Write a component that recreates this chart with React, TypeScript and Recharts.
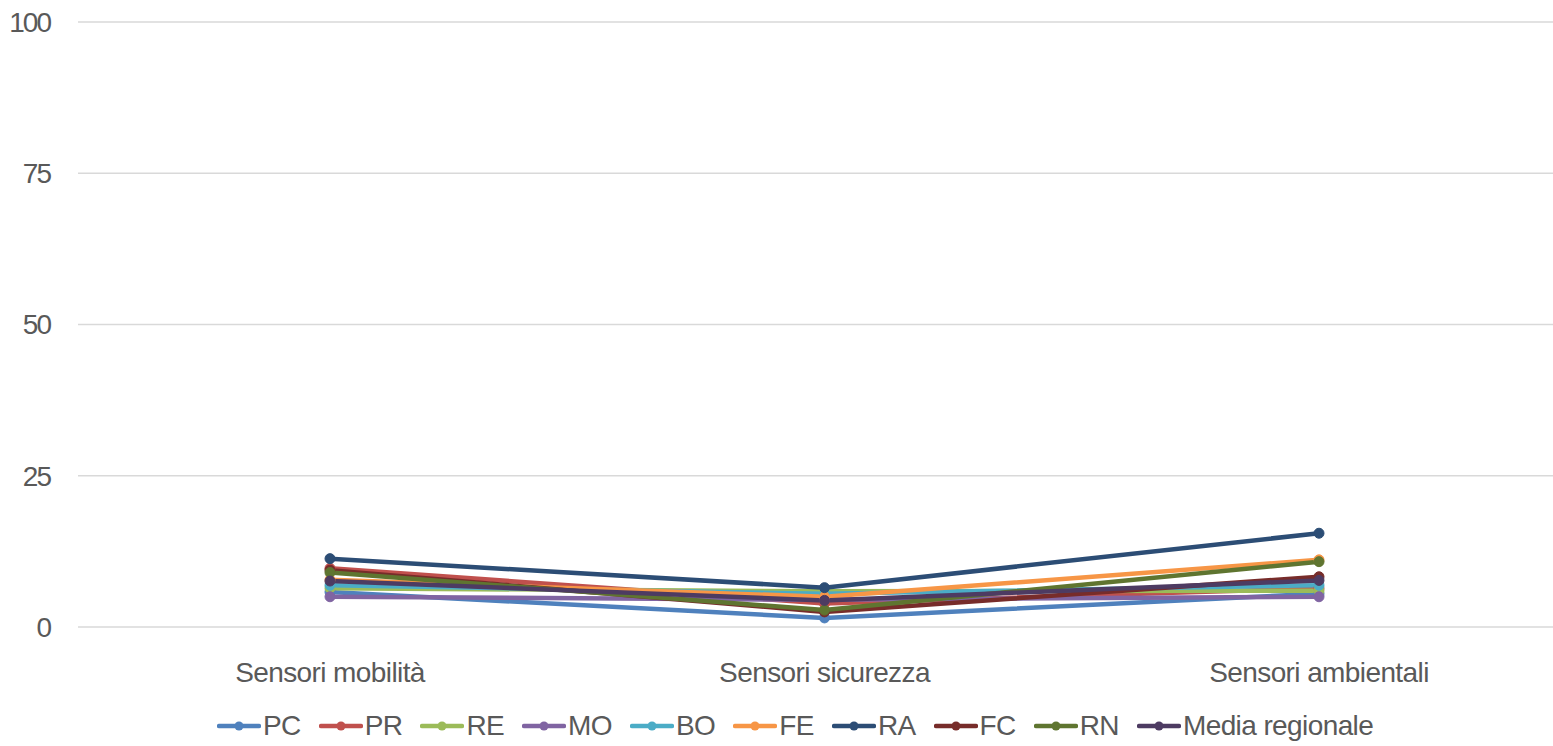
import { LineChart, Line, XAxis, YAxis, CartesianGrid, Legend } from 'recharts';

const categories = ['Sensori mobilità', 'Sensori sicurezza', 'Sensori ambientali'];

const PC = [5.8, 1.5, 5.5];
const PR = [9.7, 3.9, 6.4];
const RE = [6.4, 5.9, 6.0];
const MO = [5.0, 4.5, 5.0];
const BO = [6.9, 5.5, 6.9];
const FE = [7.8, 5.0, 11.1];
const RA = [11.3, 6.5, 15.5];
const FC = [9.4, 2.5, 8.3];
const RN = [9.0, 2.8, 10.8];
const MEDIA = [7.6, 4.4, 7.7];

const yTicks = [0, 25, 50, 75, 100];

const series = [
  { key: 'PC', values: PC, color: '#4F81BD' },
  { key: 'PR', values: PR, color: '#C0504D' },
  { key: 'RE', values: RE, color: '#9BBB59' },
  { key: 'MO', values: MO, color: '#8064A2' },
  { key: 'BO', values: BO, color: '#4BACC6' },
  { key: 'FE', values: FE, color: '#F79646' },
  { key: 'RA', values: RA, color: '#2C4D75' },
  { key: 'FC', values: FC, color: '#772C2A' },
  { key: 'RN', values: RN, color: '#5F7530' },
  { key: 'Media regionale', values: MEDIA, color: '#4D3B62' },
];

const data = categories.map((name, i) => {
  const row: Record<string, string | number> = { name };
  series.forEach((s) => {
    row[s.key] = s.values[i];
  });
  return row;
});

const FONT = '"Liberation Sans", Arial, sans-serif';
const TEXT = '#595959';

function LegendContent() {
  return (
    <div style={{ display: 'flex', alignItems: 'center', height: 40, paddingLeft: 217, fontFamily: FONT }}>
      {series.map((s) => (
        <div key={s.key} style={{ display: 'flex', alignItems: 'center', marginRight: 18 }}>
          <svg width={44} height={12} style={{ marginRight: 2 }}>
            <line x1={2} y1={6} x2={42} y2={6} stroke={s.color} strokeWidth={4.5} strokeLinecap="round" />
            <circle cx={22} cy={6} r={4.5} fill={s.color} />
          </svg>
          <span style={{ fontSize: 28, color: TEXT, letterSpacing: -0.6 }}>{s.key}</span>
        </div>
      ))}
    </div>
  );
}

export default function App() {
  return (
    <div style={{ position: 'absolute', left: 0, top: 0, width: 1553, height: 746, background: '#fff' }}>
      <LineChart width={1553} height={746} data={data} margin={{ top: 22, right: 0, left: 0, bottom: 0 }}>
        <CartesianGrid vertical={false} stroke="#d9d9d9" strokeWidth={1.5} />
        <XAxis
          dataKey="name"
          scale="point"
          padding={{ left: 252, right: 234 }}
          axisLine={false}
          tickLine={false}
          tickSize={0}
          tickMargin={35}
          height={79}
          tick={{ fontSize: 28, fill: TEXT, fontFamily: FONT, letterSpacing: -0.6 }}
        />
        <YAxis
          domain={[0, 100]}
          ticks={yTicks}
          width={78}
          axisLine={false}
          tickLine={false}
          tickSize={0}
          tickMargin={28}
          tick={{ fontSize: 28, fill: TEXT, fontFamily: FONT, letterSpacing: -2 }}
        />
        <Legend verticalAlign="bottom" height={40} content={() => <LegendContent />} />
        {series.map((s) => (
          <Line
            key={s.key}
            dataKey={s.key}
            stroke={s.color}
            strokeWidth={4.5}
            dot={{ r: 5, fill: s.color, stroke: s.color, strokeWidth: 1 }}
            isAnimationActive={false}
          />
        ))}
      </LineChart>
    </div>
  );
}
